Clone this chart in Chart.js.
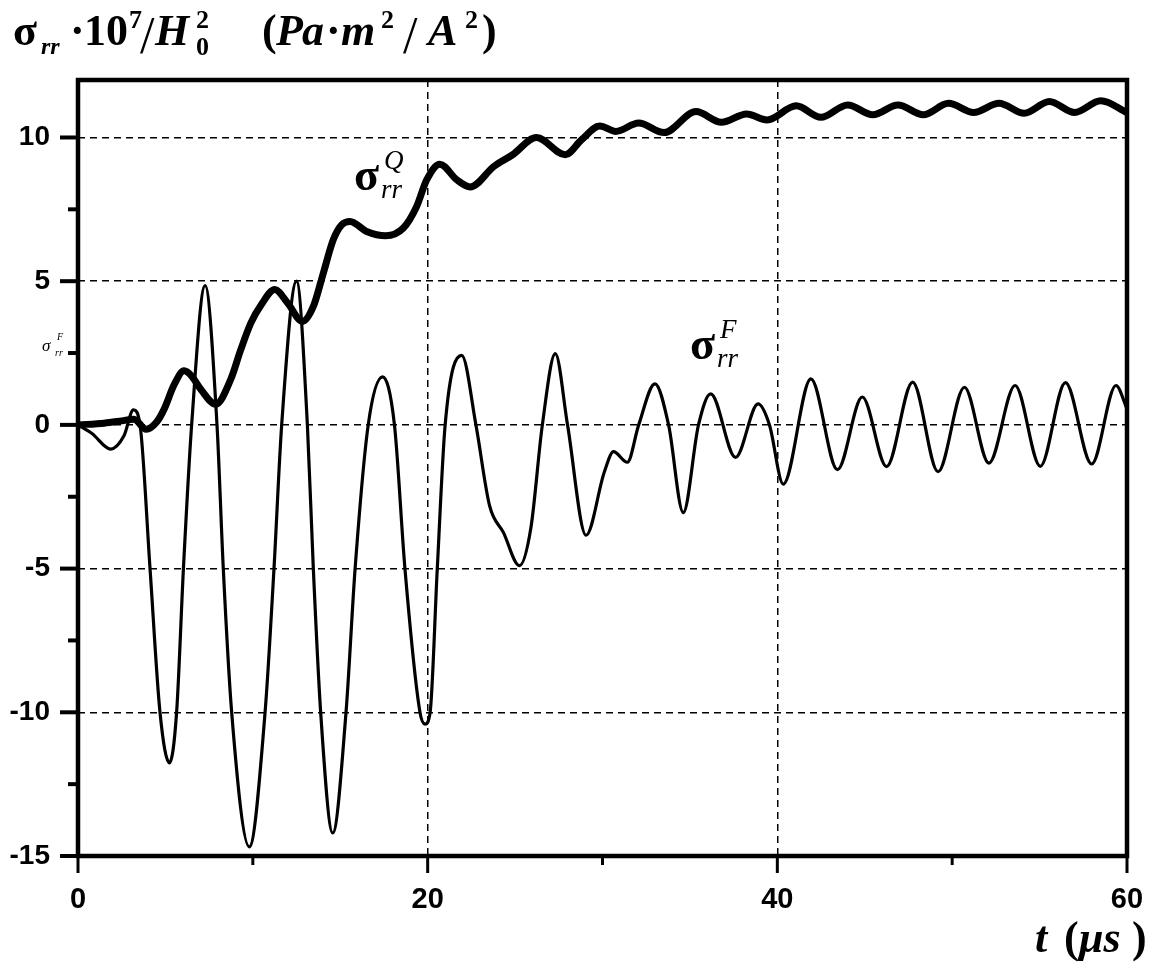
<!DOCTYPE html>
<html><head><meta charset="utf-8">
<script src="https://cdn.jsdelivr.net/npm/chart.js@4.4.1/dist/chart.umd.min.js"></script>
<style>html,body{margin:0;padding:0;background:#fff;}canvas{display:block;}</style>
</head><body>
<canvas id="c" width="1151" height="967"></canvas>
<script>
// ---- data ----
const fTimes  = [0, 0.8, 1.87, 2.63, 3.17, 3.55, 4.12, 4.69, 5.23, 5.64, 6.03, 6.5, 7.27, 7.95, 8.31, 8.79, 9.8, 10.7, 11.21, 11.65, 12.5, 13.12, 13.46, 13.88, 14.57, 15.33, 15.85, 16.6, 17.42, 18.1, 18.7, 19.56, 19.85, 20.14, 20.55, 21.0, 21.95, 22.76, 23.54, 24.33, 25.25, 25.9, 26.56, 27.3, 28.0, 29.06, 30.1, 30.63, 31.42, 32.07, 33.0, 33.78, 34.62, 35.49, 36.19, 37.61, 38.9, 39.55, 40.34, 41.92, 43.44, 44.86, 46.25, 47.74, 49.19, 50.7, 52.1, 53.6, 55.04, 56.48, 57.98, 59.37, 60.0];
const fValues = [0, -0.3, -0.84, -0.38, 0.52, 0, -5, -10, -11.76, -10, -5, 0, 4.85, 0, -5, -10, -14.68, -10, -5, 0, 5.0, 0, -5, -10, -14.2, -10, -5, 0, 1.67, 0, -5, -10, -10.41, -10, -5, 0, 2.42, 0, -2.81, -3.74, -4.9, -3.6, 0, 2.48, 0, -3.84, -1.65, -0.93, -1.3, 0, 1.43, 0, -3.05, 0, 1.08, -1.13, 0.73, 0, -2.06, 1.6, -1.56, 0.97, -1.45, 1.49, -1.63, 1.31, -1.33, 1.37, -1.44, 1.47, -1.36, 1.37, 0.56];
const qTimes  = [0, 1.5, 2.5, 3.2, 3.9, 4.5, 4.92, 5.5, 6.07, 6.5, 7.02, 7.88, 8.74, 9.3, 9.89, 10.5, 11.26, 11.98, 12.84, 13.46, 14.03, 14.6, 15.08, 15.56, 16.51, 17.6, 18.61, 19.37, 19.95, 20.7, 21.66, 22.43, 23.8, 24.86, 26.22, 27.87, 28.8, 29.84, 30.76, 32.07, 33.52, 35.35, 36.8, 38.24, 39.42, 41.08, 42.49, 44.02, 45.46, 46.9, 48.35, 49.79, 51.23, 52.68, 54.12, 55.56, 57.0, 58.5, 60.0];
const qValues = [0, 0.06, 0.14, 0.2, -0.15, 0.1, 0.54, 1.4, 1.88, 1.7, 1.24, 0.72, 1.59, 2.6, 3.55, 4.2, 4.71, 4.25, 3.6, 4.12, 5.28, 6.44, 6.96, 7.08, 6.73, 6.58, 6.85, 7.6, 8.53, 9.07, 8.53, 8.28, 9.0, 9.4, 10.0, 9.4, 9.92, 10.4, 10.21, 10.5, 10.17, 10.9, 10.53, 10.82, 10.61, 11.1, 10.7, 11.13, 10.79, 11.13, 10.79, 11.19, 10.87, 11.19, 10.84, 11.25, 10.87, 11.28, 10.87];
const xMajorTicks = [0, 20, 40, 60];
const xMinorTicks = [10, 30, 50];
const yMajorTicks = [-15, -10, -5, 0, 5, 10];
const yMinorTicks = [-12.5, -7.5, -2.5, 2.5, 7.5];
const xRange = [0, 60];
const yRange = [-15, 12];

const toPoints = (xs, ys) => xs.map((x, i) => ({x: x, y: ys[i]}));
const SERIF = '"Liberation Serif", "Times New Roman", serif';
const TICKFONT = '"Liberation Sans", Arial, sans-serif';

function allTicks(a, b) { return a.concat(b).sort((p, q) => p - q).map(v => ({value: v})); }
function gridColor(majors, lo, hi) {
  return ctx => {
    const v = ctx.tick ? ctx.tick.value : null;
    return (v !== null && majors.includes(v) && v !== lo && v !== hi) ? '#000' : 'rgba(0,0,0,0)';
  };
}

// text pieces placed at absolute positions: [text, font, x, baseline]
function drawPieces(ctx, pieces) {
  pieces.forEach(p => { ctx.font = p[1]; ctx.fillText(p[0], p[2], p[3]); });
}

const decor = {
  id: 'decor',
  afterDraw(chart) {
    const ctx = chart.ctx;
    const a = chart.chartArea;
    const xs = chart.scales.x, ys = chart.scales.y;
    ctx.save();
    ctx.strokeStyle = '#000';
    ctx.fillStyle = '#000';
    // frame
    ctx.lineWidth = 4.5;
    ctx.strokeRect(a.left, a.top, a.right - a.left, a.bottom - a.top);
    // x ticks
    ctx.lineWidth = 3;
    xMajorTicks.concat(xMinorTicks).forEach(v => {
      const px = xs.getPixelForValue(v);
      const len = xMajorTicks.includes(v) ? 17 : 9;
      ctx.beginPath(); ctx.moveTo(px, a.bottom); ctx.lineTo(px, a.bottom + len); ctx.stroke();
    });
    // y ticks
    ctx.lineWidth = 4;
    yMajorTicks.concat(yMinorTicks).forEach(v => {
      const py = ys.getPixelForValue(v);
      const len = yMajorTicks.includes(v) ? 18 : 10;
      ctx.beginPath(); ctx.moveTo(a.left, py); ctx.lineTo(a.left - len, py); ctx.stroke();
    });
    ctx.textBaseline = 'alphabetic';
    ctx.textAlign = 'left';
    // title
    const B = 45;
    const big = 'bold 44px ' + SERIF, bigI = 'bold italic 44px ' + SERIF;
    const sm = 'bold 26px ' + SERIF, smI = 'bold italic 24px ' + SERIF, sl = '52px ' + SERIF;
    drawPieces(ctx, [
      ['σ', big, 13, B],
      ['rr', smI, 41, B + 9],
      ['·', big, 70, B],
      ['10', big, 84, B],
      ['7', sm, 129, B - 17],
      ['/', sl, 140, B + 8],
      ['H', bigI, 155, B],
      ['2', sm, 196, B - 17],
      ['0', sm, 196, B + 10],
      ['(', big, 262, B],
      ['P', bigI, 276, B],
      ['a', bigI, 302, B],
      ['·', big, 326, B],
      ['m', bigI, 341, B],
      ['2', sm, 381, B - 17],
      ['/', sl, 403, B + 8],
      ['A', bigI, 428, B],
      ['2', sm, 465, B - 17],
      [')', big, 482, B]
    ]);
    // x-axis title
    drawPieces(ctx, [
      ['t', 'bold italic 44px ' + SERIF, 1035, 952],
      ['(', 'bold 44px ' + SERIF, 1064, 952],
      ['μs', 'bold italic 44px ' + SERIF, 1079, 952],
      [')', 'bold 44px ' + SERIF, 1132, 952]
    ]);
    // curve labels
    const lab = (x, y, sup) => {
      ctx.font = 'bold 46px ' + SERIF;
      ctx.fillText('σ', x, y);
      ctx.font = 'italic 27px ' + SERIF;
      ctx.fillText(sup, x + 30, y - 21);
      ctx.fillText('rr', x + 27, y + 8);
    };
    lab(354, 190, 'Q');
    lab(690, 359, 'F');
    // tiny label at y = 2.5
    ctx.font = 'italic 17px ' + SERIF;
    ctx.fillText('σ', 42, 351);
    ctx.font = 'italic 10px ' + SERIF;
    ctx.fillText('F', 57, 340);
    ctx.fillText('rr', 55, 356);
    ctx.restore();
  }
};

new Chart(document.getElementById('c'), {
  type: 'line',
  data: {
    datasets: [
      { label: 'F', data: toPoints(fTimes, fValues), borderColor: '#000', borderWidth: 3.2, pointRadius: 0, fill: false, cubicInterpolationMode: 'monotone' },
      { label: 'Q', data: toPoints(qTimes, qValues), borderColor: '#000', borderWidth: 7, pointRadius: 0, fill: false, cubicInterpolationMode: 'monotone' }
    ]
  },
  options: {
    responsive: false,
    animation: false,
    devicePixelRatio: 1,
    layout: { padding: { left: 0, right: 24, top: 80, bottom: 0 } },
    plugins: { legend: { display: false }, tooltip: { enabled: false }, title: { display: false } },
    scales: {
      x: {
        type: 'linear', min: xRange[0], max: xRange[1],
        afterBuildTicks: s => { s.ticks = allTicks(xMajorTicks, xMinorTicks); },
        afterFit: s => { s.height = 111; s.paddingLeft = 0; s.paddingRight = 0; },
        ticks: { autoSkip: false, maxRotation: 0, padding: 27, color: '#000', font: { family: TICKFONT, size: 29, weight: 'bold' },
                 callback: v => xMajorTicks.includes(v) ? String(v) : '' },
        grid: { drawTicks: false, color: gridColor(xMajorTicks, xRange[0], xRange[1]), lineWidth: 1.5 },
        border: { display: false, dash: [7, 5] }
      },
      y: {
        type: 'linear', min: yRange[0], max: yRange[1],
        afterBuildTicks: s => { s.ticks = allTicks(yMajorTicks, yMinorTicks); },
        afterFit: s => { s.width = 78; s.paddingTop = 0; s.paddingBottom = 0; },
        ticks: { autoSkip: false, padding: 28, color: '#000', font: { family: TICKFONT, size: 28, weight: 'bold' },
                 callback: v => yMajorTicks.includes(v) ? String(v) : '' },
        grid: { drawTicks: false, color: gridColor(yMajorTicks, yRange[0], yRange[1]), lineWidth: 1.5 },
        border: { display: false, dash: [7, 5] }
      }
    }
  },
  plugins: [decor]
});
</script>
</body></html>
